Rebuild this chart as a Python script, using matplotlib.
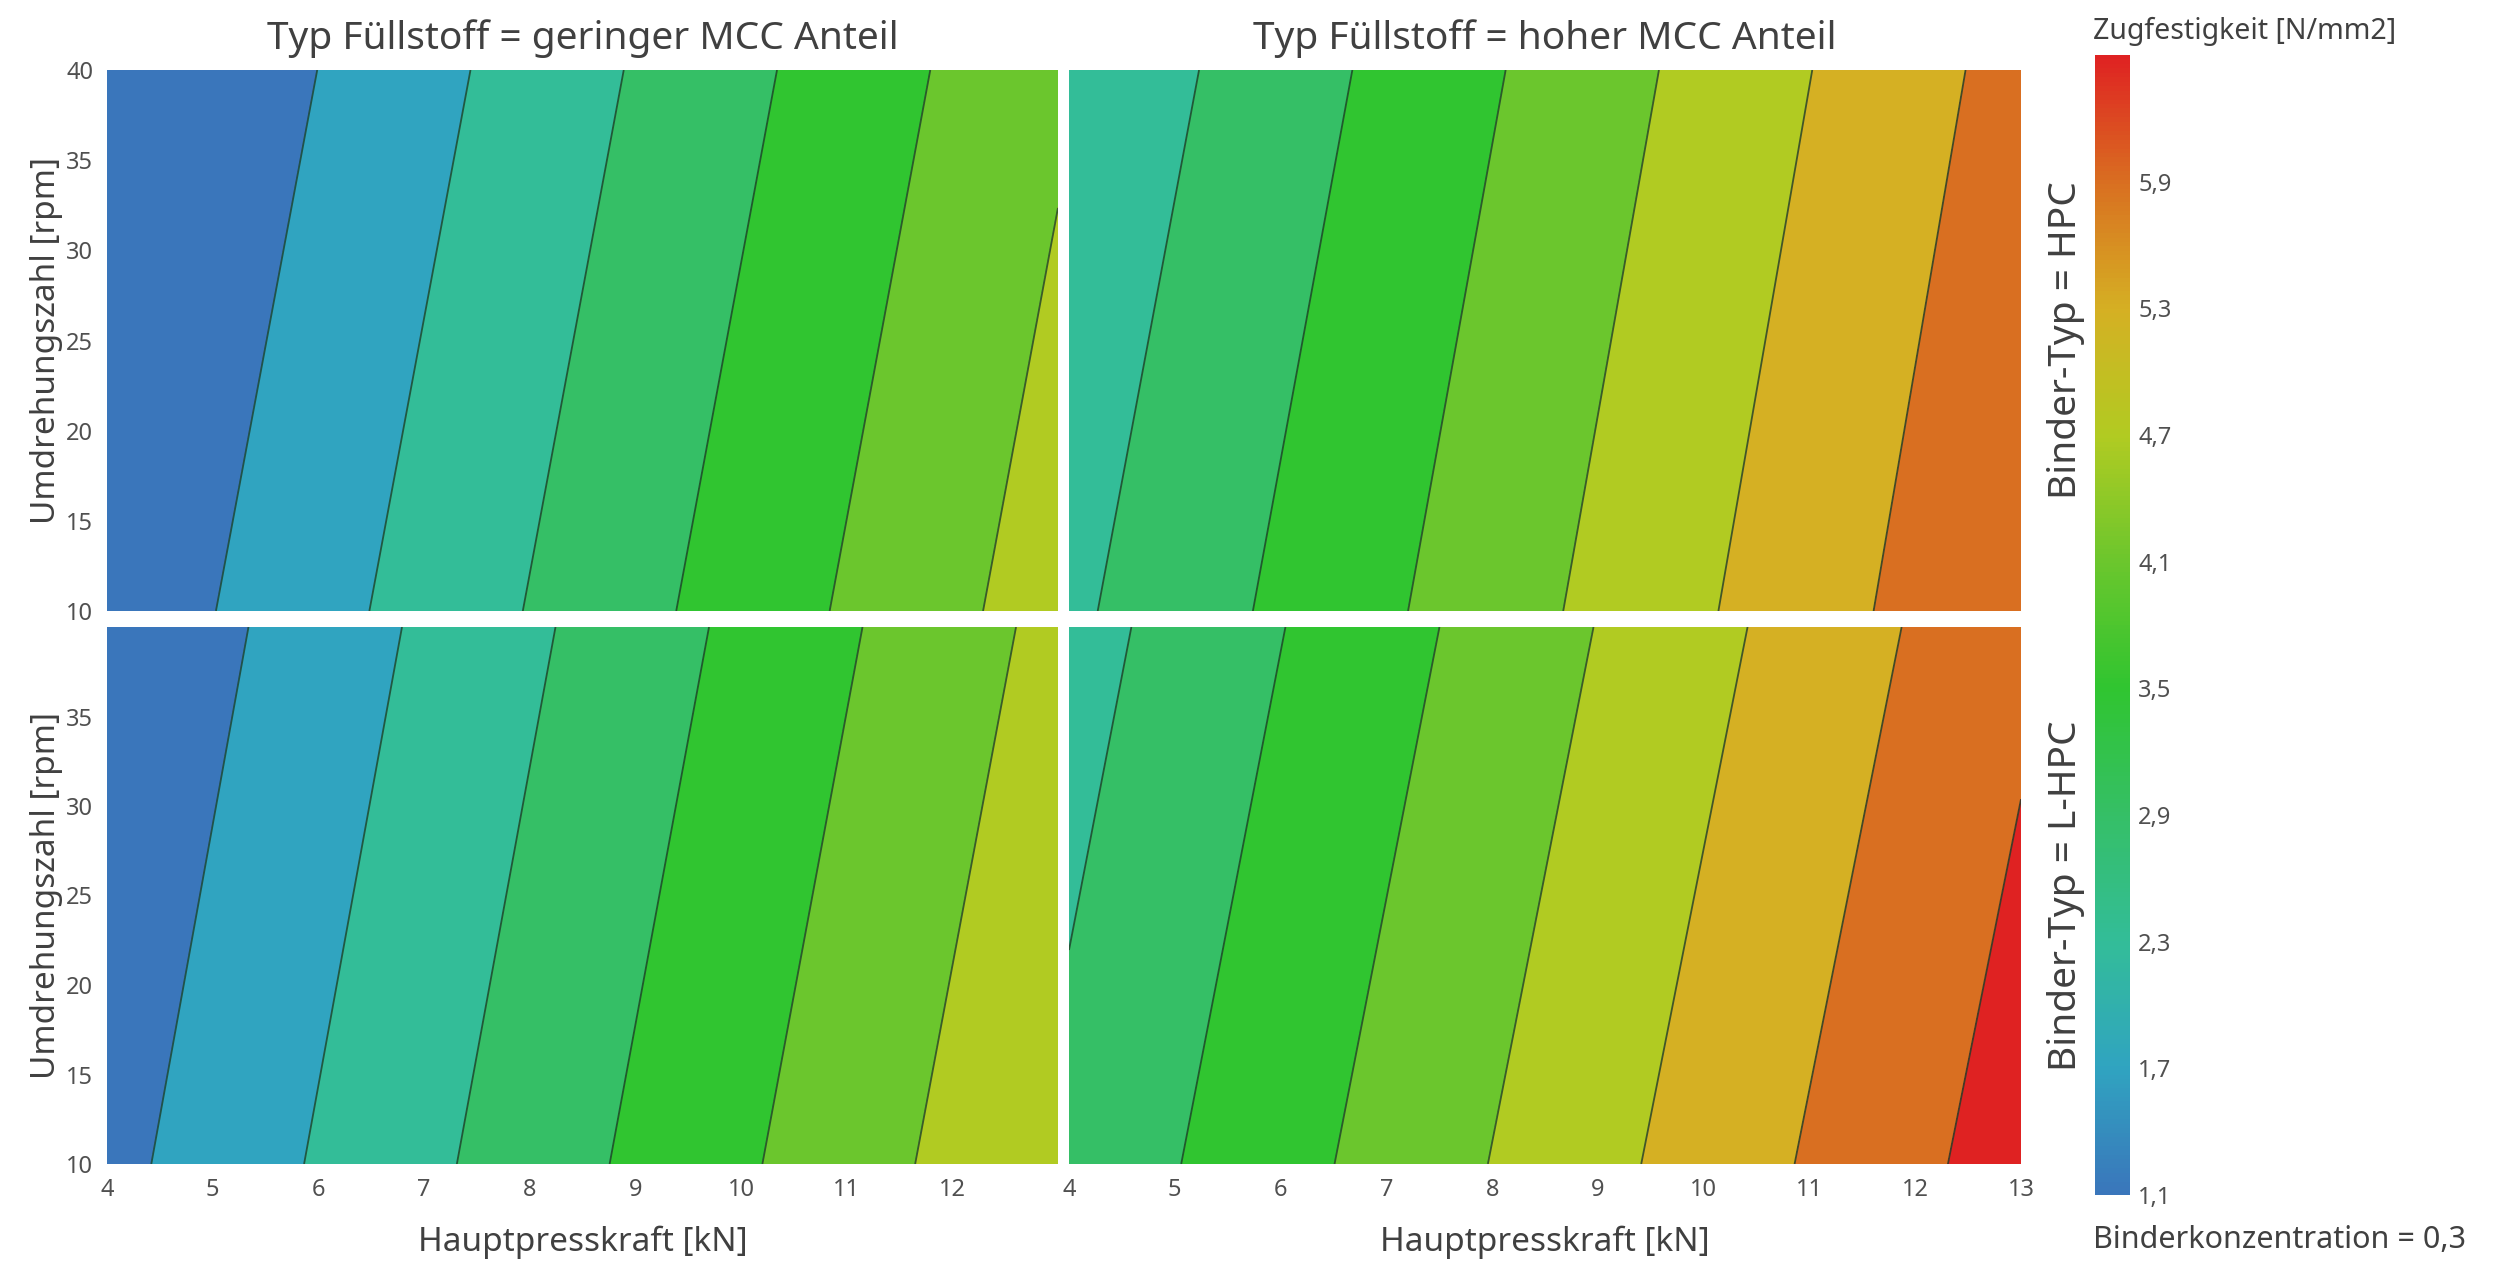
import matplotlib
matplotlib.use('Agg')
import numpy as np
import matplotlib.pyplot as plt
from matplotlib.colors import LinearSegmentedColormap, Normalize
from matplotlib.cm import ScalarMappable

plt.rcParams['font.family'] = ['Noto Sans', 'DejaVu Sans']

# Hauptpresskraft [kN] and Umdrehungszahl [rpm] at the grid corners
kraft = [4, 13]
drehzahl = [10, 40]

# Zugfestigkeit [N/mm2] at the corners, rows = rpm (10, 40), cols = kN (4, 13)
z_gering_hpc = [[1.274, 4.993], [0.877, 4.600]]
z_hoch_hpc = [[2.789, 6.470], [2.391, 6.117]]
z_gering_lhpc = [[1.526, 5.261], [1.147, 4.864]]
z_hoch_lhpc = [[3.061, 6.786], [2.657, 6.365]]

spalten = ['Typ Füllstoff = geringer MCC Anteil', 'Typ Füllstoff = hoher MCC Anteil']
zeilen = ['Binder-Typ = HPC', 'Binder-Typ = L-HPC']

# colour scale and contour levels
stufen = [1.1, 1.7, 2.3, 2.9, 3.5, 4.1, 4.7, 5.3, 5.9, 6.5]
stufen_farben = ['#3a76bb', '#30a4c0', '#33bd98', '#35bf66', '#30c530',
                 '#6bc62d', '#b1cb22', '#d5b023', '#d96f21', '#df2222']

xticks = [4, 5, 6, 7, 8, 9, 10, 11, 12, 13]
yticks = [10, 15, 20, 25, 30, 35, 40]

W, H = 2499, 1263
fig = plt.figure(figsize=(W / 100, H / 100), dpi=100)
text_col = '#404040'


def add_px_axes(x0, y0, x1, y1):
    return fig.add_axes([x0 / W, 1 - y1 / H, (x1 - x0) / W, (y1 - y0) / H])


norm = Normalize(vmin=stufen[0], vmax=stufen[-1])
cmap = LinearSegmentedColormap.from_list(
    'zug', list(zip([norm(v) for v in stufen], stufen_farben)))

fill_levels = [0] + stufen[1:] + [8]

panels = [
    (z_gering_hpc, (107, 70, 1058, 611), 0, 0),
    (z_hoch_hpc, (1069, 70, 2021, 611), 0, 1),
    (z_gering_lhpc, (107, 627, 1058, 1164), 1, 0),
    (z_hoch_lhpc, (1069, 627, 2021, 1164), 1, 1),
]

X, Y = np.meshgrid(kraft, drehzahl)
for z, box, row, col in panels:
    ax = add_px_axes(*box)
    Z = np.array(z)
    ax.contourf(X, Y, Z, levels=fill_levels, colors=stufen_farben)
    ax.contour(X, Y, Z, levels=stufen[1:], colors='#1d3f2a', linewidths=1.3, alpha=0.8)
    ax.set_xlim(4, 13)
    ax.set_ylim(10, 40)
    for s in ax.spines.values():
        s.set_visible(False)
    ax.tick_params(length=0, labelsize=17, colors='#505050', pad=10)

    if row == 1:
        ax.set_xticks(xticks if col == 1 else xticks[:-1])
        ax.set_xlabel('Hauptpresskraft [kN]', fontsize=24, color=text_col, labelpad=17)
    else:
        ax.set_xticks([])
    if col == 0:
        ax.set_yticks(yticks if row == 0 else yticks[:-1])
        ax.set_ylabel('Umdrehungszahl [rpm]', fontsize=24, color=text_col, labelpad=2)
    else:
        ax.set_yticks([])
    if row == 0:
        ax.set_title(spalten[col], fontsize=28, color=text_col, pad=15)
    if col == 1:
        ax.text(1.047, 0.5, zeilen[row], transform=ax.transAxes, rotation=90,
                ha='center', va='center', fontsize=28, color=text_col)

# colour bar
cax = add_px_axes(2095, 55, 2130, 1195)
cb = fig.colorbar(ScalarMappable(norm=norm, cmap=cmap), cax=cax)
cb.outline.set_visible(False)
cb.set_ticks(stufen[:-1])
cb.set_ticklabels([f'{v:.1f}'.replace('.', ',') for v in stufen[:-1]])
cax.tick_params(length=0, labelsize=17, colors='#505050', pad=6)
fig.text(2093 / W, 1 - 31 / H, 'Zugfestigkeit [N/mm2]', fontsize=20.5,
         color=text_col, ha='left', va='center')
fig.text(2093 / W, 1 - 1240 / H, 'Binderkonzentration = 0,3', fontsize=22,
         color=text_col, ha='left', va='center')

fig.savefig('out.png', dpi=100, facecolor='white')
